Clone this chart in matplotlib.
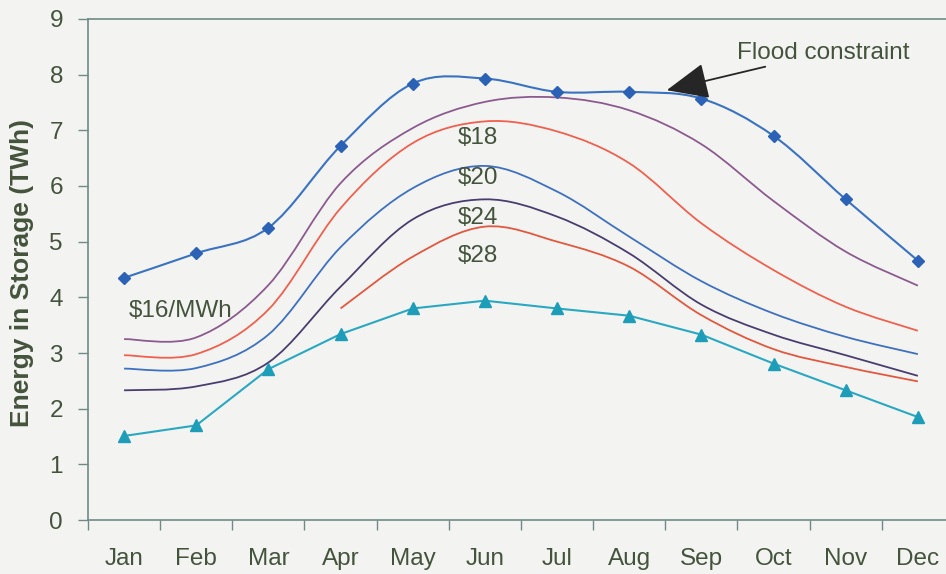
import numpy as np
import matplotlib.pyplot as plt
from matplotlib.path import Path
from matplotlib.patches import PathPatch

# data (TWh)
months = ['Jan', 'Feb', 'Mar', 'Apr', 'May', 'Jun', 'Jul', 'Aug', 'Sep', 'Oct', 'Nov', 'Dec']
flood = [4.35, 4.79, 5.25, 6.72, 7.84, 7.93, 7.69, 7.69, 7.57, 6.90, 5.76, 4.66]
p16 = [3.25, 3.28, 4.22, 6.05, 7.04, 7.51, 7.59, 7.36, 6.75, 5.73, 4.82, 4.21]
p18 = [2.96, 2.98, 3.78, 5.60, 6.77, 7.16, 6.98, 6.41, 5.33, 4.49, 3.83, 3.40]
p20 = [2.72, 2.73, 3.33, 4.90, 5.96, 6.36, 5.90, 5.09, 4.29, 3.71, 3.29, 2.98]
p24 = [2.33, 2.40, 2.83, 4.19, 5.40, 5.76, 5.45, 4.79, 3.87, 3.33, 2.96, 2.59]
p28 = [np.nan, np.nan, np.nan, 3.80, 4.73, 5.27, 5.00, 4.55, 3.68, 3.07, 2.75, 2.49]
low = [1.51, 1.70, 2.71, 3.34, 3.80, 3.94, 3.80, 3.67, 3.33, 2.81, 2.33, 1.85]

price_labels = ['$16/MWh', '$18', '$20', '$24', '$28']

plt.rcParams['font.family'] = ['Liberation Sans', 'DejaVu Sans']
txt = '#44533c'
spine = '#6f8a86'
bg = '#f3f4f2'
fs = 17.5


def smooth_line(ax, xs, ys, color, lw=1.3):
    # excel style smoothed line: bezier segments through the points
    xs = np.asarray(xs, float); ys = np.asarray(ys, float)
    ok = ~np.isnan(ys)
    xs = xs[ok]; ys = ys[ok]
    pts = np.column_stack([xs, ys])
    n = len(pts)
    verts = [pts[0]]
    codes = [Path.MOVETO]
    for i in range(n - 1):
        p0 = pts[i - 1] if i > 0 else pts[i]
        p1 = pts[i]
        p2 = pts[i + 1]
        p3 = pts[i + 2] if i + 2 < n else pts[i + 1]
        c1 = p1 + (p2 - p0) / 6.0
        c2 = p2 - (p3 - p1) / 6.0
        verts += [c1, c2, p2]
        codes += [Path.CURVE4] * 3
    ax.add_patch(PathPatch(Path(verts, codes), fill=False, edgecolor=color, lw=lw, capstyle='butt'))


fig = plt.figure(figsize=(9.46, 5.74), dpi=100)
fig.patch.set_facecolor(bg)
ax = fig.add_axes([0.093, 0.094, 0.9154, 0.873])
ax.set_facecolor(bg)

x = np.arange(len(months))

smooth_line(ax, x, p16, '#8c5a8e')
smooth_line(ax, x, p18, '#f0604e')
smooth_line(ax, x, p20, '#3e70c0')
smooth_line(ax, x, p24, '#4a3d6e')
smooth_line(ax, x, p28, '#e2583f')

smooth_line(ax, x, flood, '#3a72c2', lw=1.5)
ax.plot(x, flood, linestyle='none', marker='D', markersize=6.5, color='#2c62b6')
ax.plot(x, low, color='#2aa8c2', lw=1.5, marker='^', markersize=9, markerfacecolor='#1e9db8',
        markeredgecolor='#1e9db8')

# price labels
ax.text(0.79, 3.75, price_labels[0], fontsize=fs, color=txt, ha='center', va='center')
for lab, yy in zip(price_labels[1:], [6.86, 6.14, 5.42, 4.74]):
    ax.text(4.9, yy, lab, fontsize=fs, color=txt, ha='center', va='center')

ax.annotate('Flood constraint', xy=(7.52, 7.72), xytext=(8.49, 8.39),
            fontsize=fs, color=txt, ha='left', va='center',
            arrowprops=dict(arrowstyle='-|>,head_length=1.5,head_width=0.65', color='#262626', lw=1.3,
                            shrinkA=0, shrinkB=0))

ax.set_xlim(-0.5, 11.5)
ax.set_ylim(0, 9)
ax.set_yticks(range(10))
ax.set_xticks(np.arange(-0.5, 12, 1))
ax.set_xticklabels([])
ax.set_xticks(x, minor=True)
ax.set_xticklabels(months, minor=True)
ax.tick_params(axis='x', which='major', length=7, width=1, color=spine, direction='out')
ax.tick_params(axis='x', which='minor', length=0, pad=20, labelsize=fs, labelcolor=txt)
ax.tick_params(axis='y', length=7, width=1, color=spine, pad=11, labelsize=fs, labelcolor=txt)

for s in ['left', 'bottom', 'top']:
    ax.spines[s].set_color(spine)
    ax.spines[s].set_linewidth(1.2)
ax.spines['right'].set_visible(False)

fig.text(22 / 946, 0.525, 'Energy in Storage (TWh)', rotation=90, ha='center', va='center',
         fontsize=19, fontweight='bold', color=txt)

fig.savefig('out.png', dpi=100, facecolor=bg)
